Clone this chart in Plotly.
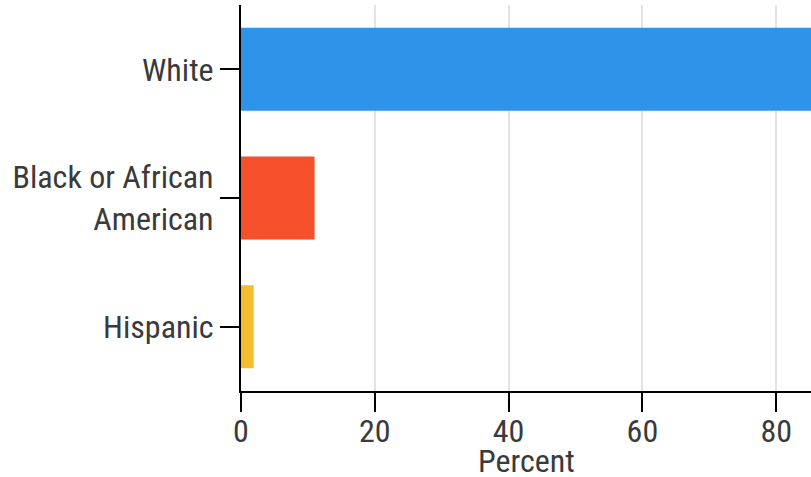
import plotly.graph_objects as go

categories = ["White", "Black or African<br>American", "Hispanic"]
values = [87.0, 11.0, 1.9]
colors = ["#2E94E9", "#F54F2B", "#F6BC2F"]
x_title = "Percent"

fig = go.Figure(go.Bar(
    y=categories, x=values, orientation="h",
    marker=dict(color=colors, line=dict(width=0)),
    width=0.645,
))

font_family = "Roboto Condensed, Roboto, sans-serif"
fs = 32
fig.update_layout(
    width=811, height=477,
    margin=dict(l=241, r=0, t=5, b=86, autoexpand=False),
    plot_bgcolor="white", paper_bgcolor="white",
    font=dict(family=font_family, size=fs, color="#3a3a3a"),
    showlegend=False,
    xaxis=dict(
        range=[0, 85.2], tickvals=[0, 20, 40, 60, 80],
        showgrid=True, gridcolor="#e3e3e3", gridwidth=2,
        showline=True, linecolor="black", linewidth=2,
        ticks="outside", ticklen=19, tickwidth=2, tickcolor="black",
        ticklabelstandoff=-8,
        zeroline=False,
        tickfont=dict(size=fs),
    ),
    yaxis=dict(
        autorange="reversed",
        showline=True, linecolor="black", linewidth=2,
        ticks="outside", ticklen=19, tickwidth=2, tickcolor="black",
        showgrid=False, tickfont=dict(size=fs),
    ),
    annotations=[dict(
        text=x_title, xref="paper", yref="paper", x=0.5, y=-0.1813,
        xanchor="center", yanchor="middle", showarrow=False,
        font=dict(size=fs, family=font_family, color="#3a3a3a"),
    )],
)
fig.write_html("out.html", post_script="document.body.style.margin='0';",
               config={"displayModeBar": False})
